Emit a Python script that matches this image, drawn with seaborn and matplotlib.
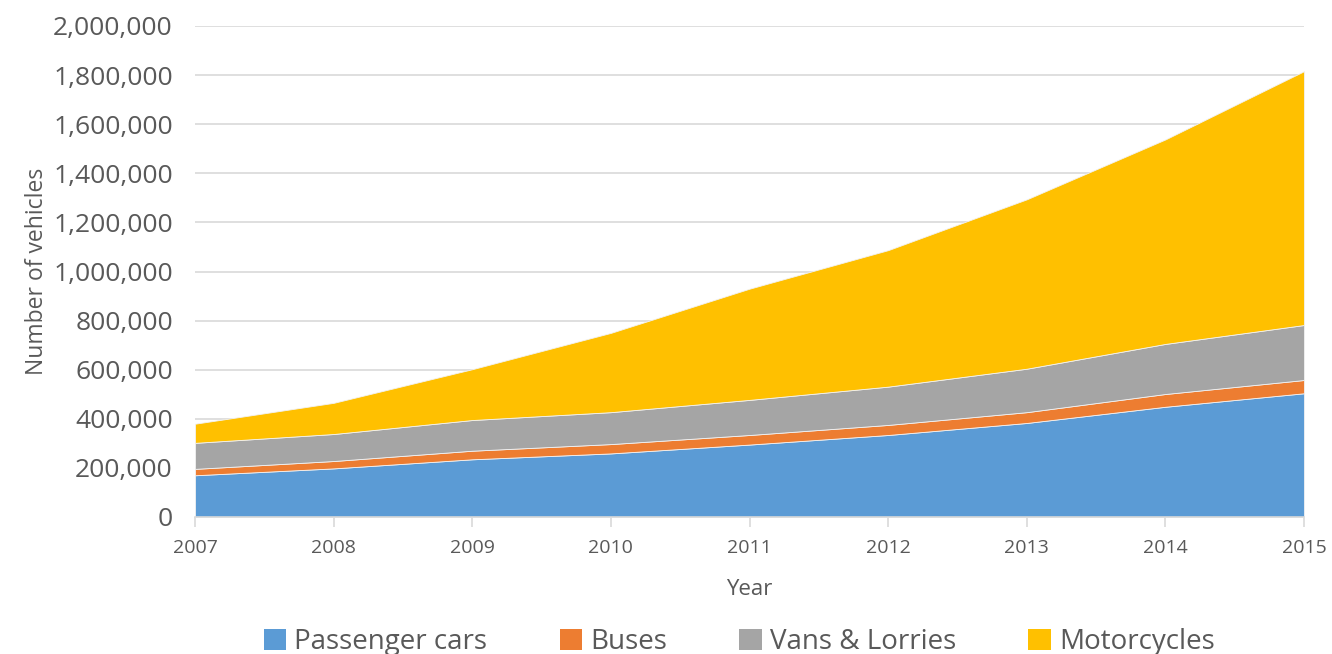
import numpy as np
import pandas as pd
import matplotlib
matplotlib.use('Agg')
import matplotlib.pyplot as plt
import seaborn as sns
from matplotlib.ticker import FuncFormatter
from matplotlib.patches import Patch

YEARS = [2007, 2008, 2009, 2010, 2011, 2012, 2013, 2014, 2015]
PASSENGER_CARS = [170000, 198000, 235000, 259000, 295000, 334000, 383000, 449000, 504000]
BUSES = [26000, 30000, 35000, 38000, 39000, 41000, 44000, 52000, 54000]
VANS_LORRIES = [106000, 110000, 125000, 130000, 143000, 156000, 177000, 204000, 224000]
MOTORCYCLES = [78000, 127000, 207000, 323000, 453000, 556000, 690000, 833000, 1034000]

SERIES = ['Passenger cars', 'Buses', 'Vans & Lorries', 'Motorcycles']
COLORS = ['#5B9BD5', '#ED7D31', '#A5A5A5', '#FFC000']

df = pd.DataFrame({
    'Year': YEARS,
    'Passenger cars': PASSENGER_CARS,
    'Buses': BUSES,
    'Vans & Lorries': VANS_LORRIES,
    'Motorcycles': MOTORCYCLES,
})

sns.set_theme(style='white')
plt.rcParams['font.family'] = ['Open Sans', 'DejaVu Sans']

fig = plt.figure(figsize=(13.32, 6.54), dpi=100)
ax = fig.add_axes([195 / 1332, 1 - 517 / 654, (1304 - 195) / 1332, (517 - 26) / 654])

ax.stackplot(df['Year'], [df[s] for s in SERIES], colors=COLORS,
             edgecolor='#f2f2f2', linewidth=0.6, zorder=2)

ax.set_xlim(2007, 2015)
ax.set_ylim(0, 2000000)
ax.set_yticks(np.arange(0, 2000001, 200000))
ax.set_xticks(YEARS)
ax.yaxis.set_major_formatter(FuncFormatter(lambda v, _: f'{int(v):,}'))
ax.grid(axis='y', color='#d9d9d9', linewidth=1.2, zorder=0)
ax.grid(axis='x', visible=False)

sns.despine(ax=ax, left=True, top=True, right=True)
ax.spines['bottom'].set_color('#d9d9d9')
ax.spines['bottom'].set_linewidth(1.2)
ax.spines['bottom'].set_zorder(3)

ax.tick_params(axis='y', labelsize=19, colors='#595959', length=0, pad=16)
ax.tick_params(axis='x', labelsize=14, colors='#595959', length=7, width=1.2,
               direction='out', pad=9, bottom=True)
ax.tick_params(axis='x', color='#d9d9d9')

ax.set_ylabel('Number of vehicles', fontsize=16.5, color='#595959', labelpad=3)
ax.set_xlabel('Year', fontsize=16, color='#595959', labelpad=16)

handles = [Patch(facecolor=c, edgecolor='none') for c in COLORS]
fig.legend(handles, SERIES, loc='lower center', bbox_to_anchor=(0.555, -0.042),
           ncol=4, frameon=False, fontsize=20, handlelength=0.8, handleheight=0.8,
           handletextpad=0.3, columnspacing=2.6, labelcolor='#595959')

fig.savefig('out.png', dpi=100)
